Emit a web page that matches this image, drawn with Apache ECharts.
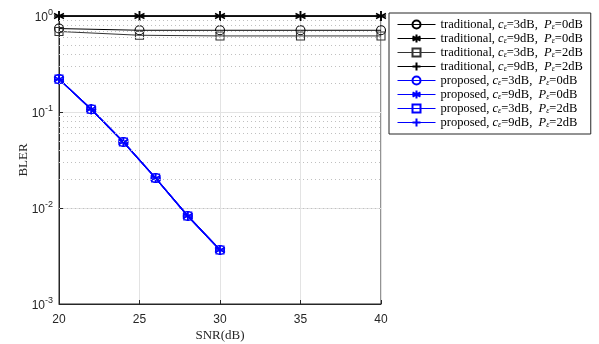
<!DOCTYPE html>
<html><head><meta charset="utf-8">
<script src="https://cdn.jsdelivr.net/npm/echarts@6/dist/echarts.min.js"></script>
<style>html,body{margin:0;padding:0;background:#fff}#c{width:599px;height:344px}</style>
</head><body><div id="c"></div>
<script>
const snrTrad = [20, 25, 30, 35, 40];
const tradC3P0 = [0.74, 0.71, 0.71, 0.71, 0.71];
const tradC9P0 = [1, 1, 1, 1, 1];
const tradC3P2 = [0.69, 0.63, 0.62, 0.62, 0.62];
const tradC9P2 = [1, 1, 1, 1, 1];
const snrProp = [20, 22, 24, 26, 28, 30];
const propC3P0 = [0.22, 0.107, 0.0487, 0.0205, 0.00826, 0.00365];
const propC9P0 = [0.22, 0.107, 0.0487, 0.0205, 0.00826, 0.00365];
const propC3P2 = [0.22, 0.107, 0.0487, 0.0205, 0.00826, 0.00365];
const propC9P2 = [0.22, 0.107, 0.0487, 0.0205, 0.00826, 0.00365];
const xTicks = [20, 25, 30, 35, 40];
const minorGrid = [0.002,0.003,0.004,0.005,0.006,0.007,0.008,0.009,0.02,0.03,0.04,0.05,0.06,0.07,0.08,0.09,0.2,0.3,0.4,0.5,0.6,0.7,0.8,0.9];

const STAR = 'path://M0,-5L0,5M-4.33,-2.5L4.33,2.5M-4.33,2.5L4.33,-2.5';
const PLUS = 'path://M0,-5L0,5M-5,0L5,0';
const legendNames = {
  t1: ['traditional', '3', '0'], t2: ['traditional', '9', '0'],
  t3: ['traditional', '3', '2'], t4: ['traditional', '9', '2'],
  p1: ['proposed', '3', '0'], p2: ['proposed', '9', '0'],
  p3: ['proposed', '3', '2'], p4: ['proposed', '9', '2']
};
function pairs(xs, ys) { return xs.map((x, i) => [x, ys[i]]); }
function mk(id, xs, ys, color, sym, size, lw, z) {
  const stroked = (sym === STAR || sym === PLUS);
  return {
    id: id, name: id, type: 'line', data: pairs(xs, ys),
    symbol: sym, symbolSize: size, showSymbol: true, z: z,
    lineStyle: { color: color, width: lw },
    itemStyle: { color: stroked ? color : 'rgba(255,255,255,0)', borderColor: color, borderWidth: stroked ? 1.5 : 1.1 },
    emphasis: { disabled: true }, animation: false
  };
}
const BLK = '#000000', BLU = '#0000ff';
const series = [
  mk('t1', snrTrad, tradC3P0, BLK, 'circle', 9, 1, 3),
  mk('t2', snrTrad, tradC9P0, BLK, STAR, 10, 1.5, 3),
  mk('t3', snrTrad, tradC3P2, '#333333', 'rect', 8, 1, 3),
  mk('t4', snrTrad, tradC9P2, BLK, PLUS, 10, 1.5, 3),
  mk('p1', snrProp, propC3P0, BLU, 'circle', 9, 1.3, 4),
  mk('p2', snrProp, propC9P0, BLU, STAR, 10, 1.3, 4),
  mk('p3', snrProp, propC3P2, BLU, 'rect', 8, 1.3, 4),
  mk('p4', snrProp, propC9P2, BLU, PLUS, 10, 1.3, 4)
];
series.push({
  type: 'line', data: [], silent: true, z: 1,
  markLine: {
    silent: true, symbol: ['none', 'none'], label: { show: false }, animation: false,
    lineStyle: { color: '#c0c0c0', type: [1, 3], width: 1 },
    data: minorGrid.map(v => ({ yAxis: v }))
  }
});

const chart = echarts.init(document.getElementById('c'), null, { renderer: 'canvas' });
chart.setOption({
  animation: false,
  backgroundColor: '#ffffff',
  grid: { left: 59, right: 218, top: 16, bottom: 40, containLabel: false, outerBoundsMode: 'none',
    show: true, borderColor: '#262626', borderWidth: 1, backgroundColor: 'transparent' },
  xAxis: {
    type: 'value', min: 20, max: 40, interval: 5,
    name: 'SNR(dB)', nameLocation: 'middle', nameGap: 25, nameMoveOverlap: false,
    nameTextStyle: { fontFamily: 'Liberation Serif', fontSize: 13, color: '#262626' },
    axisLine: { lineStyle: { color: '#262626' } },
    axisTick: { inside: true, length: 4, lineStyle: { color: '#262626' } },
    axisLabel: { fontFamily: 'Liberation Sans', fontSize: 12, color: '#262626', margin: 10,
      formatter: v => xTicks.includes(v) ? String(v) : '' },
    splitLine: { show: true, lineStyle: { color: '#e3e3e3', width: 1 } }
  },
  yAxis: {
    type: 'log', logBase: 10, min: 0.001, max: 1,
    name: 'BLER', nameLocation: 'middle', nameGap: 29, nameRotate: 90, nameMoveOverlap: false,
    nameTextStyle: { fontFamily: 'Liberation Serif', fontSize: 13, color: '#262626' },
    axisLine: { lineStyle: { color: '#262626' } },
    axisTick: { inside: true, length: 4, lineStyle: { color: '#262626' } },
    axisLabel: {
      margin: 6, color: '#262626',
      formatter: v => '{b|10}{s|' + Math.round(Math.log10(v)) + '}',
      rich: {
        b: { fontFamily: 'Liberation Sans', fontSize: 12, color: '#262626', padding: [4, 0, 0, 0] },
        s: { fontFamily: 'Liberation Sans', fontSize: 9, color: '#262626', verticalAlign: 'top', padding: [0, 0, 6, 0] }
      }
    },
    splitLine: { show: true, lineStyle: { color: '#e3e3e3', width: 1 } }
  },
  legend: {
    orient: 'vertical', left: 389, top: 13, width: 200,
    padding: [5, 8, 5, 8], itemGap: 1, itemWidth: 38, itemHeight: 10,
    backgroundColor: '#ffffff', borderColor: '#262626', borderWidth: 1, borderRadius: 0,
    lineStyle: { width: 1 },
    data: ['t1','t2','t3','t4','p1','p2','p3','p4'],
    formatter: n => {
      const d = legendNames[n];
      return '{r|' + d[0] + ', }{i|c}{s|ε}{r|=' + d[1] + 'dB,  }{i|P}{s|ε}{r|=' + d[2] + 'dB}';
    },
    textStyle: {
      rich: {
        r: { fontFamily: 'Liberation Serif', fontSize: 12.5, color: '#000' },
        i: { fontFamily: 'Liberation Serif', fontSize: 12.5, fontStyle: 'italic', color: '#000' },
        s: { fontFamily: 'Liberation Serif', fontSize: 8, fontStyle: 'italic', color: '#000', verticalAlign: 'bottom', padding: [4, 0, 0, 0] }
      }
    }
  },
  series: series
});
</script></body></html>
